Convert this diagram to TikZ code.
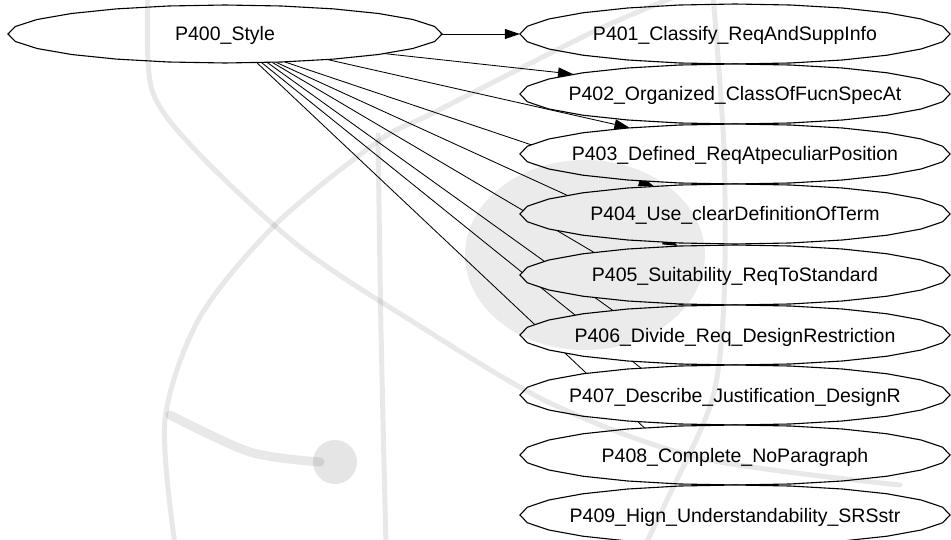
\documentclass[tikz,border=0pt]{standalone}
\usepackage{fontspec}
\setmainfont{Liberation Sans}
\usetikzlibrary{shapes.geometric,arrows.meta}
\pgfdeclarelayer{edgelayer}
\pgfdeclarelayer{shapelayer}
\pgfdeclarelayer{marklayer}
\pgfsetlayers{edgelayer,shapelayer,main,marklayer}

\begin{document}
\begin{tikzpicture}[x=1pt,y=-1pt,
  state/.style={ellipse, minimum width=430pt, minimum height=60pt, inner sep=0pt,
    font=\fontsize{19.5}{20}\selectfont, text height=14pt, text depth=0pt},
  outline/.style={draw=black, line width=1.1pt, fill=white},
  link/.style={draw=black, line width=0.85pt, -{Triangle[length=15pt,width=10pt]}},
  faint/.style={black, opacity=0.09, line width=5pt, line cap=round}]

\useasboundingbox (0,0) rectangle (951,540);

% process nodes (text and anchors)
\node[state, minimum width=434pt, minimum height=58pt] (p400) at (225,34) {\makebox[0pt]{P400\_Style}};
\node[state] (p401) at (735,34)  {\makebox[0pt]{P401\_Classify\_ReqAndSuppInfo}};
\node[state] (p402) at (735,94)  {\makebox[0pt]{P402\_Organized\_ClassOfFucnSpecAt}};
\node[state] (p403) at (735,154) {\makebox[0pt]{P403\_Defined\_ReqAtpeculiarPosition}};
\node[state] (p404) at (735,214) {\makebox[0pt]{P404\_Use\_clearDefinitionOfTerm}};
\node[state] (p405) at (735,275) {\makebox[0pt]{P405\_Suitability\_ReqToStandard}};
\node[state] (p406) at (735,335) {\makebox[0pt]{P406\_Divide\_Req\_DesignRestriction}};
\node[state] (p407) at (735,395) {\makebox[0pt]{P407\_Describe\_Justification\_DesignR}};
\node[state] (p408) at (735,455) {\makebox[0pt]{P408\_Complete\_NoParagraph}};
\node[state] (p409) at (735,515) {\makebox[0pt]{P409\_Hign\_Understandability\_SRSstr}};

% faceted ellipse outlines, white filled, under the labels
\begin{pgfonlayer}{shapelayer}
\foreach \n/\rx/\ry in {p400/217/29, p401/215/30, p402/215/30, p403/215/30, p404/215/30,
                        p405/215/30, p406/215/30, p407/215/30, p408/215/30, p409/215/30}{
  \begin{scope}[shift={(\n.center)}]
    \draw[outline] plot[samples at={0,15,...,345}, variable=\t] ({\rx*cos(\t)},{\ry*sin(\t)}) -- cycle;
  \end{scope}
}
\end{pgfonlayer}

% connectors, kept beneath the ellipses
\begin{pgfonlayer}{edgelayer}
\draw[link] (p400.east)   -- (p401.west);
\draw[link] (p400.-7.5)   -- (p402.173.2);
\draw[link] (p400.-14.4)  -- (p403.166.6);
\draw[link] (p400.-25.8)  -- (p404.161.1);
\draw[link] (p400.-29.1)  -- (p405.153.4);
\draw[link] (p400.-31.7)  -- (p406.150.9);
\draw[link] (p400.-34.6)  -- (p407.147.2);
\draw[link] (p400.-38.1)  -- (p408.128.4);
\draw[link] (p400.-42.2)  -- (p409.135);
\end{pgfonlayer}

% light logo in the background, laid over everything
\begin{pgfonlayer}{marklayer}
\draw[faint] plot[smooth] coordinates {(680,-5) (597,30) (433,113) (380,140) (277,223) (200,317) (165,420) (175,545)};
\draw[faint] plot[smooth] coordinates {(148,-5) (152,90) (200,155) (300,247) (410,320) (550,403) (700,458) (900,485)};
\draw[faint] plot[smooth] coordinates {(378,135) (381,330) (386,545)};
\draw[faint] plot[smooth] coordinates {(713,-5) (724,150) (724,300) (712,400) (667,500) (645,545)};
\fill[black, opacity=0.08] (585,255) ellipse [x radius=120, y radius=95];
\fill[black, opacity=0.1] (335,462) circle [radius=22];
\draw[faint, line width=9pt] plot[smooth] coordinates {(170,415) (250,452) (320,462)};
\end{pgfonlayer}
\end{tikzpicture}
\end{document}
